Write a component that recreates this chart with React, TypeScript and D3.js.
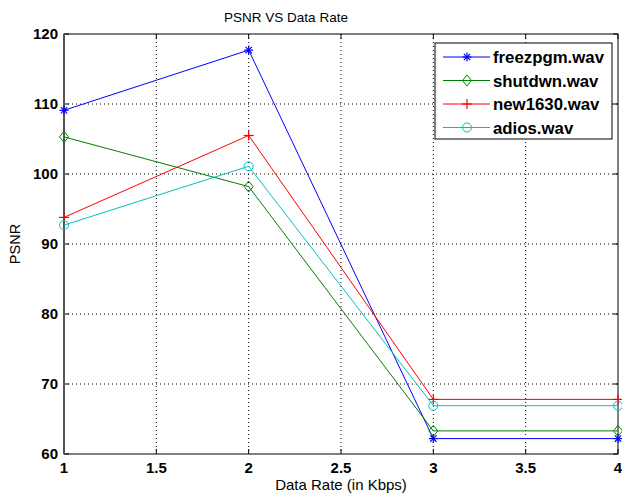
import React from "react";
import * as d3 from "d3";

const rates = [1, 2, 3, 4];
const seriesNames = ["freezpgm.wav", "shutdwn.wav", "new1630.wav", "adios.wav"];
const freezpgm = [109.1, 117.7, 62.2, 62.2];
const shutdwn = [105.3, 98.2, 63.3, 63.3];
const new1630 = [93.8, 105.5, 67.8, 67.8];
const adios = [92.7, 101.1, 66.9, 66.9];
const xTicks = [1, 1.5, 2, 2.5, 3, 3.5, 4];
const yTicks = [60, 70, 80, 90, 100, 110, 120];

const colors = ["#0000ff", "#008000", "#ff0000", "#00bfbf"];
const markers = ["star", "diamond", "plus", "circle"];

function Marker({ type, x, y, color }: { type: string; x: number; y: number; color: string }) {
  const s = 4.5;
  if (type === "star") {
    return (
      <g stroke={color} strokeWidth={1.2}>
        <line x1={x - s} y1={y} x2={x + s} y2={y} />
        <line x1={x} y1={y - s} x2={x} y2={y + s} />
        <line x1={x - s * 0.7} y1={y - s * 0.7} x2={x + s * 0.7} y2={y + s * 0.7} />
        <line x1={x - s * 0.7} y1={y + s * 0.7} x2={x + s * 0.7} y2={y - s * 0.7} />
      </g>
    );
  }
  if (type === "plus") {
    return (
      <g stroke={color} strokeWidth={1.2}>
        <line x1={x - 5} y1={y} x2={x + 5} y2={y} />
        <line x1={x} y1={y - 5} x2={x} y2={y + 5} />
      </g>
    );
  }
  if (type === "diamond") {
    return (
      <path
        d={`M${x},${y - 5.5}L${x + 4.5},${y}L${x},${y + 5.5}L${x - 4.5},${y}Z`}
        fill="none"
        stroke={color}
        strokeWidth={1}
      />
    );
  }
  return <circle cx={x} cy={y} r={4.5} fill="none" stroke={color} strokeWidth={1} />;
}

export default function App() {
  const W = 622;
  const H = 500;
  const left = 64;
  const right = 618;
  const top = 34;
  const bottom = 454;
  const x = d3.scaleLinear().domain([1, 4]).range([left, right]);
  const y = d3.scaleLinear().domain([60, 120]).range([bottom, top]);
  const data = [freezpgm, shutdwn, new1630, adios];
  const line = d3
    .line<number>()
    .x((_, i) => x(rates[i]))
    .y((d) => y(d));
  const font = "Arial, 'Liberation Sans', sans-serif";

  return (
    <svg
      width={W}
      height={H}
      style={{ position: "absolute", left: 0, top: 0, background: "#fff" }}
      fontFamily={font}
    >
      <rect x={0} y={0} width={W} height={H} fill="#fff" />
      {/* grid */}
      {xTicks.slice(1, -1).map((t) => (
        <line
          key={"gx" + t}
          x1={x(t)}
          x2={x(t)}
          y1={top}
          y2={bottom}
          stroke="#000"
          strokeWidth={1}
          strokeDasharray="1,3"
        />
      ))}
      {yTicks.slice(1, -1).map((t) => (
        <line
          key={"gy" + t}
          x1={left}
          x2={right}
          y1={y(t)}
          y2={y(t)}
          stroke="#000"
          strokeWidth={1}
          strokeDasharray="1,3"
        />
      ))}
      {/* ticks inward */}
      {xTicks.map((t) => (
        <g key={"tx" + t}>
          <line x1={x(t)} x2={x(t)} y1={bottom} y2={bottom - 5} stroke="#000" />
          <line x1={x(t)} x2={x(t)} y1={top} y2={top + 5} stroke="#000" />
          <text
            x={x(t)}
            y={bottom + 19}
            textAnchor="middle"
            fontSize={15}
            fontWeight="bold"
            fill="#000"
          >
            {t}
          </text>
        </g>
      ))}
      {yTicks.map((t) => (
        <g key={"ty" + t}>
          <line x1={left} x2={left + 5} y1={y(t)} y2={y(t)} stroke="#000" />
          <line x1={right} x2={right - 5} y1={y(t)} y2={y(t)} stroke="#000" />
          <text
            x={left - 6}
            y={y(t) + 5}
            textAnchor="end"
            fontSize={15}
            fontWeight="bold"
            fill="#000"
          >
            {t}
          </text>
        </g>
      ))}
      {/* box */}
      <rect
        x={left}
        y={top}
        width={right - left}
        height={bottom - top}
        fill="none"
        stroke="#000"
        strokeWidth={1}
      />
      <line x1={left} x2={left} y1={top} y2={bottom} stroke="#555" strokeWidth={2} />
      {/* series */}
      {data.map((vals, si) => (
        <g key={"s" + si}>
          <path d={line(vals) || ""} fill="none" stroke={colors[si]} strokeWidth={1} />
          {vals.map((v, i) => (
            <Marker key={i} type={markers[si]} x={x(rates[i])} y={y(v)} color={colors[si]} />
          ))}
        </g>
      ))}
      {/* legend */}
      <rect x={435} y={43} width={177} height={96} fill="#fff" stroke="#000" strokeWidth={1} />
      {seriesNames.map((name, i) => {
        const ly = 57 + i * 23.5;
        return (
          <g key={"l" + i}>
            <line x1={443} x2={490} y1={ly} y2={ly} stroke={colors[i]} strokeWidth={1} />
            <Marker type={markers[i]} x={467} y={ly} color={colors[i]} />
            <text x={493} y={ly + 6} fontSize={16.8} fontWeight="bold" fill="#000">
              {name}
            </text>
          </g>
        );
      })}
      {/* titles */}
      <text x={286} y={22} textAnchor="middle" fontSize={13.5} fill="#000">
        PSNR VS Data Rate
      </text>
      <text x={341} y={490} textAnchor="middle" fontSize={15} fill="#000">
        Data Rate (in Kbps)
      </text>
      <text
        transform={`translate(19.5,244) rotate(-90)`}
        textAnchor="middle"
        fontSize={14.5}
        fill="#000"
      >
        PSNR
      </text>
    </svg>
  );
}
